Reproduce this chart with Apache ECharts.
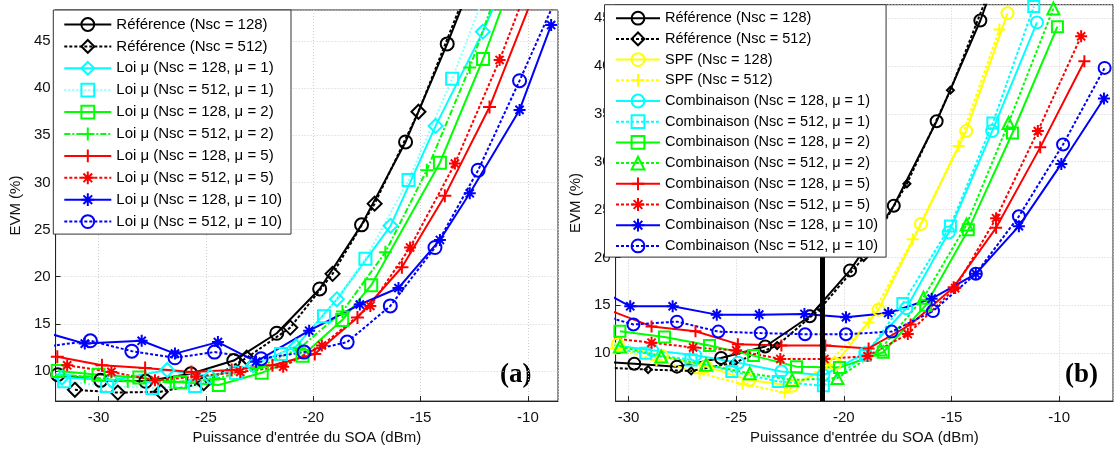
<!DOCTYPE html>
<html><head><meta charset="utf-8">
<script src="https://cdn.jsdelivr.net/npm/echarts@6/dist/echarts.min.js"></script>
<style>
html,body{margin:0;padding:0;background:#fff;}
#a{position:absolute;left:0;top:0;width:560px;height:450px;}
#b{position:absolute;left:560px;top:0;width:555px;height:450px;}
</style>
</head><body><div id="a"></div><div id="b"></div>
<script>
// ---------- Panel (a) data ----------
const aRef128X = [-31.9, -29.9, -27.8, -25.7, -23.7, -21.7, -19.7, -17.75, -15.7, -13.76, -11.8];
const aRef128Y = [9.6, 9.0, 8.9, 9.7, 11.1, 14.0, 18.7, 25.5, 34.3, 44.7, 56.0];
const aRef512X = [-31.1, -29.1, -27.1, -25.1, -23.1, -21.07, -19.1, -17.14, -15.1, -13.1];
const aRef512Y = [8.0, 7.7, 7.8, 8.7, 11.4, 14.6, 20.3, 27.75, 37.5, 49.0];
const aMu1N128X = [-31.7, -29.4, -26.8, -24.8, -22.8, -20.8, -18.9, -16.4, -14.3, -12.1, -10.0];
const aMu1N128Y = [9.3, 9.0, 10.1, 9.4, 10.6, 12.6, 17.6, 25.4, 36.0, 46.0, 57.0];
const aMu1N512X = [-31.6, -29.6, -27.5, -25.5, -23.6, -21.5, -19.5, -17.57, -15.56, -13.53, -11.5];
const aMu1N512Y = [8.9, 8.4, 8.2, 8.4, 9.8, 11.8, 15.8, 21.9, 30.25, 41.0, 53.0];
const aMu2N128X = [-31.9, -30.0, -28.1, -26.2, -24.4, -22.4, -20.5, -18.65, -17.3, -14.1, -12.09, -10.5];
const aMu2N128Y = [10.0, 9.6, 9.3, 8.8, 8.5, 9.8, 11.6, 15.4, 19.1, 32.1, 43.1, 53.0];
const aMu2N512X = [-32.4, -30.64, -28.64, -26.64, -24.64, -22.64, -20.64, -18.64, -16.64, -14.71, -12.71, -10.7];
const aMu2N512Y = [9.7, 9.4, 8.9, 8.8, 9.1, 10.3, 12.4, 16.3, 22.6, 31.3, 42.2, 55.0];
const aMu5N128X = [-31.92, -29.84, -27.83, -25.67, -23.8, -21.9, -19.93, -17.94, -15.87, -13.87, -11.79, -9.8];
const aMu5N128Y = [11.5, 10.6, 10.3, 9.9, 10.1, 10.6, 11.8, 15.67, 21.0, 28.6, 38.0, 49.5];
const aMu5N512X = [-31.46, -29.4, -27.37, -25.44, -23.4, -21.4, -19.6, -17.34, -15.49, -13.4, -11.32, -9.3];
const aMu5N512Y = [10.6, 9.9, 9.0, 9.4, 9.9, 10.45, 12.7, 16.9, 23.1, 32.0, 43.0, 55.0];
const aMu10N128X = [-32.5, -30.64, -27.99, -26.44, -24.44, -22.66, -20.19, -17.83, -16.03, -14.1, -12.71, -10.39, -8.92];
const aMu10N128Y = [14.1, 12.9, 13.2, 11.84, 13.06, 10.98, 14.27, 17.05, 18.8, 23.9, 28.85, 37.7, 46.7];
const aMu10N512X = [-32.4, -30.38, -28.45, -26.44, -24.6, -22.43, -20.43, -18.42, -16.41, -14.33, -12.32, -10.39, -8.4];
const aMu10N512Y = [12.6, 13.2, 12.1, 11.4, 12.0, 11.3, 12.0, 13.06, 16.9, 23.1, 31.3, 40.8, 51.0];

// ---------- Panel (b) data ----------
const bRef128X = [-31.7, -29.73, -27.75, -25.7, -23.65, -21.58, -19.71, -17.68, -15.69, -13.66, -11.7];
const bRef128Y = [9.2, 8.9, 8.6, 9.5, 10.7, 13.86, 18.65, 25.4, 34.22, 44.75, 57.0];
const bRef512X = [-31.1, -29.09, -27.09, -25.1, -23.1, -21.08, -19.08, -17.07, -15.05, -13.05];
const bRef512Y = [8.5, 8.29, 8.15, 9.0, 10.8, 14.7, 20.0, 27.7, 37.47, 49.0];
const bSpf128X = [-30.5, -28.45, -26.4, -24.4, -22.4, -20.4, -18.39, -16.42, -14.32, -12.4];
const bSpf128Y = [10.9, 9.7, 8.6, 7.2, 6.6, 8.9, 14.55, 23.5, 33.2, 45.5];
const bSpf512X = [-30.6, -28.7, -26.7, -24.7, -22.75, -20.8, -18.85, -16.8, -14.67, -12.78];
const bSpf512Y = [10.5, 9.3, 7.9, 6.8, 5.9, 8.8, 13.2, 21.9, 31.65, 43.8];
const bMu1N128X = [-30.9, -28.9, -26.9, -24.9, -22.9, -20.95, -19.0, -17.1, -15.13, -13.11, -11.03];
const bMu1N128Y = [10.9, 10.3, 9.8, 9.0, 8.1, 7.7, 10.0, 14.7, 22.6, 33.2, 44.55];
const bMu1N512X = [-31.2, -29.2, -27.1, -25.2, -23.05, -20.95, -19.0, -17.26, -15.05, -13.08, -11.18];
const bMu1N512Y = [10.6, 10.0, 9.3, 8.1, 7.05, 6.6, 9.75, 15.2, 23.3, 34.05, 46.2];
const bMu2N128X = [-30.4, -28.33, -26.24, -24.2, -22.2, -20.2, -18.17, -16.2, -14.22, -12.17, -10.08];
const bMu2N128Y = [12.3, 11.7, 10.8, 9.75, 8.6, 8.5, 10.1, 15.0, 22.9, 33.0, 44.1];
const bMu2N512X = [-30.4, -28.48, -26.4, -24.37, -22.4, -20.3, -18.3, -16.3, -14.3, -12.35, -10.27];
const bMu2N512Y = [10.7, 9.66, 8.8, 7.9, 7.2, 7.4, 10.4, 15.8, 23.45, 34.05, 46.0];
const bMu5N128X = [-30.9, -28.93, -26.89, -24.92, -22.9, -20.86, -18.85, -16.9, -14.9, -12.93, -10.88, -8.83];
const bMu5N128Y = [14.5, 12.8, 12.3, 10.95, 10.8, 10.8, 10.5, 13.0, 16.9, 23.1, 31.5, 40.5];
const bMu5N512X = [-30.9, -28.93, -27.0, -25.0, -22.95, -20.9, -18.9, -17.03, -14.83, -12.93, -10.99, -8.98];
const bMu5N512Y = [11.6, 11.1, 10.6, 10.3, 9.4, 9.4, 9.7, 12.0, 16.8, 24.1, 33.2, 43.1];
const bMu10N128X = [-31.0, -29.92, -27.95, -25.9, -23.93, -21.83, -19.9, -17.94, -15.92, -13.87, -11.87, -9.9, -7.92];
const bMu10N128Y = [16.2, 14.9, 14.9, 14.03, 14.03, 14.1, 13.76, 14.2, 15.7, 18.3, 23.27, 29.77, 36.6];
const bMu10N512X = [-31.0, -29.77, -27.75, -25.83, -23.86, -21.8, -19.9, -17.78, -15.86, -13.87, -11.87, -9.82, -7.89];
const bMu10N512Y = [13.8, 13.0, 13.3, 12.26, 12.1, 11.98, 11.98, 12.26, 14.4, 18.3, 24.3, 31.8, 39.8];
const bCutX = -21; // thick vertical marker line

// ---------- axis ranges ----------
const aXRange = [-32, -8.6], aYRange = [6.8, 48.3];
const bXRange = [-30.6, -7.5], bYRange = [5.0, 46.4];

const SYM = {
  circle: 'circle', diamond: 'diamond', square: 'rect', triangle: 'triangle',
  plus: 'path://M5,0L5,10M0,5L10,5',
  star: 'path://M5,0L5,10M0,5L10,5M1.6,1.6L8.4,8.4M8.4,1.6L1.6,8.4'
};
const SOLID = 'solid', DOT = [3, 2], DASHDOT = [6, 2, 2, 2];
const FONT = 'Liberation Sans';

function mk(name, xs, ys, color, lineColor, dash, sym, size) {
  return {
    name, type: 'line', data: xs.map((x, i) => [x, ys[i]]),
    symbol: SYM[sym], symbolSize: size, clip: true,
    lineStyle: { color: lineColor, width: 2, type: dash },
    itemStyle: { color: 'rgba(0,0,0,0)', borderColor: color, borderWidth: 2 },
    emphasis: { disabled: true }, animation: false
  };
}

function axes(xr, yr) {
  const common = {
    type: 'value',
    axisLine: { show: true, lineStyle: { color: '#222', width: 1 } },
    axisTick: { show: true, inside: true, length: 5, lineStyle: { color: '#222' } },
    splitLine: { show: true, lineStyle: { color: '#cfcfcf', type: [1, 2], width: 1 } },
    axisLabel: { color: '#111', fontSize: 15, fontFamily: FONT, showMinLabel: false, showMaxLabel: false },
    nameTextStyle: { color: '#111', fontSize: 15, fontFamily: FONT },
    nameLocation: 'middle'
  };
  return {
    xAxis: Object.assign({}, common, { min: xr[0], max: xr[1], splitNumber: 5, name: "Puissance d'entrée du SOA (dBm)", nameGap: 27,
      axisLabel: Object.assign({}, common.axisLabel, { margin: 9 }) }),
    yAxis: Object.assign({}, common, { min: yr[0], max: yr[1], splitNumber: 8, name: 'EVM (%)',
      axisLabel: Object.assign({}, common.axisLabel, { margin: 5 }) })
  };
}

function legend(left, top, itemWidth, itemGap, padding, fontSize, names) {
  return {
    orient: 'vertical', left, top, itemWidth, itemHeight: 16, itemGap, padding, z: 20,
    backgroundColor: '#fff', borderColor: '#333', borderWidth: 1, selectedMode: false,
    textStyle: { fontSize, fontFamily: FONT, color: '#000' }, data: names
  };
}

// ---------- Panel (a) ----------
const C = '#00ffff', G = '#00ff00', R = '#ff0000', B = '#0000ff', K = '#000000', Y = '#ffff00';
const aSeries = [
  mk('Référence (Nsc = 128)', aRef128X, aRef128Y, K, K, SOLID, 'circle', 13),
  mk('Référence (Nsc = 512)', aRef512X, aRef512Y, K, K, DOT, 'diamond', 14),
  mk('Loi μ (Nsc = 128, μ = 1)', aMu1N128X, aMu1N128Y, C, C, SOLID, 'diamond', 14),
  mk('Loi μ (Nsc = 512, μ = 1)', aMu1N512X, aMu1N512Y, C, '#8cffff', [2, 2], 'square', 12),
  mk('Loi μ (Nsc = 128, μ = 2)', aMu2N128X, aMu2N128Y, G, G, SOLID, 'square', 12),
  mk('Loi μ (Nsc = 512, μ = 2)', aMu2N512X, aMu2N512Y, G, G, DASHDOT, 'plus', 13),
  mk('Loi μ (Nsc = 128, μ = 5)', aMu5N128X, aMu5N128Y, R, R, SOLID, 'plus', 13),
  mk('Loi μ (Nsc = 512, μ = 5)', aMu5N512X, aMu5N512Y, R, R, DOT, 'star', 12),
  mk('Loi μ (Nsc = 128, μ = 10)', aMu10N128X, aMu10N128Y, B, B, SOLID, 'star', 12),
  mk('Loi μ (Nsc = 512, μ = 10)', aMu10N512X, aMu10N512Y, B, B, DOT, 'circle', 13)
];
const ax = axes(aXRange, aYRange);
const chartA = echarts.init(document.getElementById('a'), null, { renderer: 'canvas' });
chartA.setOption({
  animation: false, backgroundColor: '#fff',
  grid: { left: 53.3, right: 2, top: 10, bottom: 41.7, show: true, borderColor: '#222', borderWidth: 1, containLabel: false },
  xAxis: ax.xAxis, yAxis: Object.assign({}, ax.yAxis, { nameGap: 30 }),
  legend: legend(53.3, 10, 47, 6.9, [7, 9, 5, 10], 15, aSeries.map(s => s.name)),
  series: aSeries,
  graphic: [{ type: 'text', left: 500, top: 362, style: { text: '(a)', font: 'bold 27px "Liberation Serif"', fill: '#000' } }]
});

// ---------- Panel (b) ----------
const bSeries = [
  mk('Référence (Nsc = 128)', bRef128X, bRef128Y, K, K, SOLID, 'circle', 12),
  mk('Référence (Nsc = 512)', bRef512X, bRef512Y, K, K, DOT, 'diamond', 7),
  mk('SPF (Nsc = 128)', bSpf128X, bSpf128Y, Y, Y, SOLID, 'circle', 12),
  mk('SPF (Nsc = 512)', bSpf512X, bSpf512Y, Y, Y, DOT, 'plus', 12),
  mk('Combinaison (Nsc = 128, μ = 1)', bMu1N128X, bMu1N128Y, C, C, SOLID, 'circle', 12),
  mk('Combinaison (Nsc = 512, μ = 1)', bMu1N512X, bMu1N512Y, C, C, DOT, 'square', 11),
  mk('Combinaison (Nsc = 128, μ = 2)', bMu2N128X, bMu2N128Y, G, G, SOLID, 'square', 11),
  mk('Combinaison (Nsc = 512, μ = 2)', bMu2N512X, bMu2N512Y, G, G, DOT, 'triangle', 12),
  mk('Combinaison (Nsc = 128, μ = 5)', bMu5N128X, bMu5N128Y, R, R, SOLID, 'plus', 12),
  mk('Combinaison (Nsc = 512, μ = 5)', bMu5N512X, bMu5N512Y, R, R, DOT, 'star', 12),
  mk('Combinaison (Nsc = 128, μ = 10)', bMu10N128X, bMu10N128Y, B, B, SOLID, 'star', 12),
  mk('Combinaison (Nsc = 512, μ = 10)', bMu10N512X, bMu10N512Y, B, B, DOT, 'circle', 12)
];
bSeries[0].markLine = {
  silent: true, animation: false, symbol: ['none', 'none'], label: { show: false },
  lineStyle: { color: '#000', width: 5, type: 'solid' }, emphasis: { disabled: true },
  data: [{ xAxis: bCutX }]
};
const bx = axes(bXRange, bYRange);
const chartB = echarts.init(document.getElementById('b'), null, { renderer: 'canvas' });
chartB.setOption({
  animation: false, backgroundColor: '#fff',
  grid: { left: 44.3, right: 2, top: 4.7, bottom: 42.3, show: true, borderColor: '#222', borderWidth: 1, containLabel: false },
  xAxis: bx.xAxis, yAxis: Object.assign({}, bx.yAxis, { nameGap: 29 }),
  legend: legend(44.5, 4.7, 44, 5.7, [6, 8, 3.7, 10.5], 14.5, bSeries.map(s => s.name)),
  series: bSeries,
  graphic: [{ type: 'text', left: 505, top: 362, style: { text: '(b)', font: 'bold 27px "Liberation Serif"', fill: '#000' } }]
});
</script></body></html>
